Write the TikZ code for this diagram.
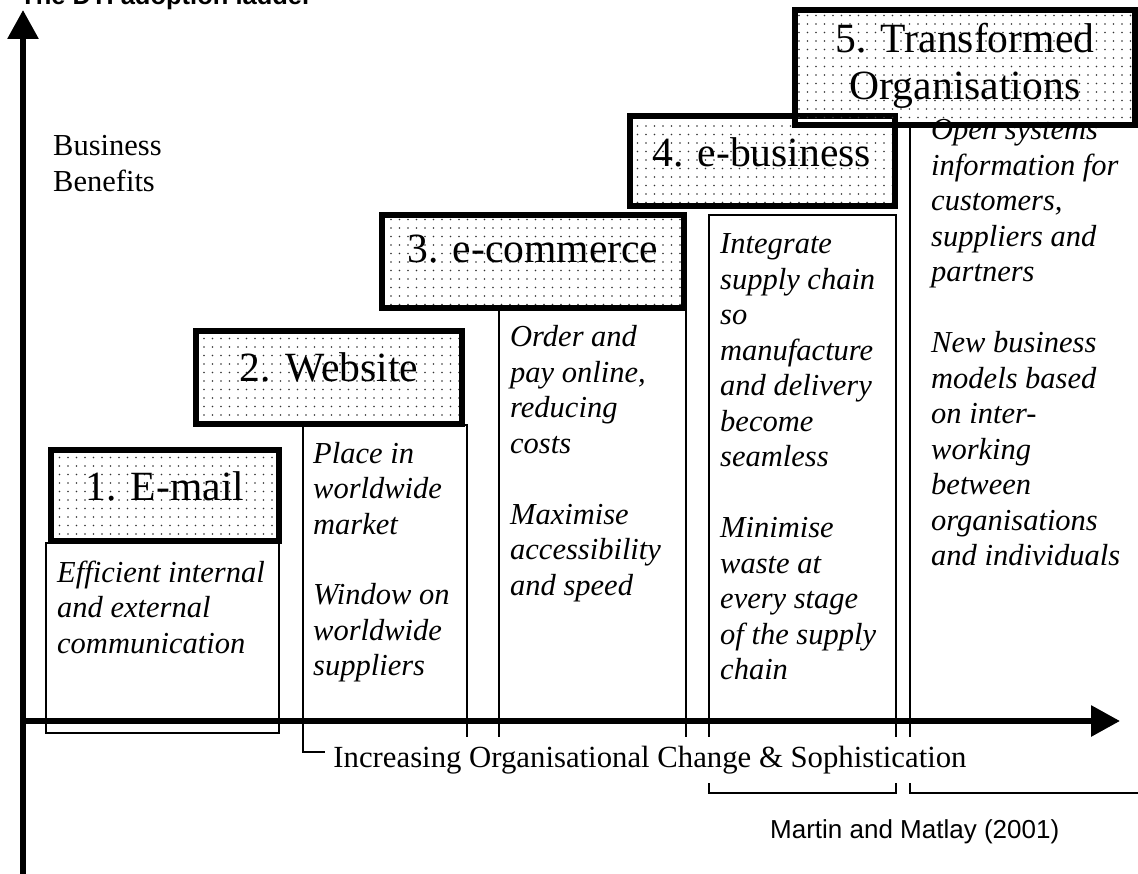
\documentclass[tikz,border=0pt]{standalone}
\usepackage{fontspec}
\setmainfont{Liberation Serif}
\setsansfont{Liberation Sans}
\usetikzlibrary{arrows.meta,patterns.meta,fit}

% a block of lines whose first baseline sits on the node's base anchor
\newcommand\linesblock[2]{\parbox[t]{280pt}{\raggedright#1\fontsize{30.5}{35.5}\selectfont #2}}

\begin{document}
\begin{tikzpicture}[x=1pt,y=-1pt,
  textbox/.style={draw, line width=1.4pt, inner sep=0pt},
  stagehead/.style={draw, line width=5.5pt, inner sep=0pt,
    pattern={Dots[distance=8.5pt, radius=0.95pt]}, pattern color=black!80},
  headtext/.style={anchor=base, inner sep=0pt, font=\fontsize{41.6}{47}\selectfont},
  bodytext/.style={anchor=base west, inner sep=0pt},
  axis/.style={line width=6pt, -{Triangle[length=29pt, width=30pt]}},
]
\useasboundingbox (0,0) rectangle (1138,874);

% title of the figure
\node[anchor=base west, inner sep=0pt, font=\sffamily\bfseries\fontsize{25.5}{30}\selectfont] (title) at (20,5) {The DTI adoption ladder};

% description frames of the five stages
\node[textbox, fit={(46,543) (279,733)}] (t1) {};
\node[textbox, fit={(303,425) (467,752)}] (t2) {};
\node[textbox, fit={(499,308) (686,762)}] (t3) {};
\node[textbox, fit={(709,215) (896,793)}] (t4) {};
\node[textbox, fit={(910,125) (1170,793)}] (t5) {};

% stage descriptions
\node[bodytext] (b1) at (57,582) {\linesblock{\itshape}{Efficient internal\\and external\\communication}};
\node[bodytext] (b2) at (313,463) {\linesblock{\itshape}{Place in\\worldwide\\market\\[35.5pt]Window on\\worldwide\\suppliers}};
\node[bodytext] (b3) at (510,347) {\linesblock{\itshape}{Order and\\pay online,\\reducing\\costs\\[35.5pt]Maximise\\accessibility\\and speed}};
\node[bodytext] (b4) at (720,254) {\linesblock{\itshape}{Integrate\\supply chain\\so\\manufacture\\and delivery\\become\\seamless\\[35.5pt]Minimise\\waste at\\every stage\\of the supply\\chain}};
\node[bodytext] (b5) at (931,140) {\linesblock{\itshape}{Open systems\\information for\\customers,\\suppliers and\\partners\\[35.5pt]New business\\models based\\on inter-\\working\\between\\organisations\\and individuals}};

% stage headers, each step above the previous one
\node[stagehead, fit={(51,450) (279,541)}] (h1) {};
\node[headtext] (l1) at (165,500) {1. E-mail};
\node[stagehead, fit={(196,331) (462,424)}] (h2) {};
\node[headtext] (l2) at (329,382) {2. Website};
\node[stagehead, fit={(382,215) (684,308)}] (h3) {};
\node[headtext] (l3) at (533,263) {3. e-commerce};
\node[stagehead, fit={(630,116) (895,206)}] (h4) {};
\node[headtext] (l4) at (762,167) {4. e-business};
\node[stagehead, fit={(795,10) (1135,125)}] (h5) {};
\node[headtext] (l5a) at (965,53) {5. Transformed};
\node[headtext] (l5b) at (965,100) {Organisations};

% y axis label
\node[bodytext] (ylabel) at (53,156) {\linesblock{}{Business\\Benefits}};

% axes
\coordinate (yfoot) at (23,880);
\coordinate (ytip) at (23,10);
\coordinate (xfoot) at (20,721);
\coordinate (xtip) at (1120,721);
\draw[axis] (yfoot) -- (ytip);
\draw[axis] (xfoot) -- (xtip);

% x axis label
\node[fill=white, inner sep=0pt, minimum width=650pt, minimum height=46pt,
  font=\fontsize{30.75}{35.5}\selectfont] (xlabel) at (650,760)
  {Increasing Organisational Change \& Sophistication};

% source
\node[anchor=base west, inner sep=0pt, font=\sffamily\fontsize{26}{30}\selectfont] (source) at (770,838) {Martin and Matlay (2001)};
\end{tikzpicture}
\end{document}
